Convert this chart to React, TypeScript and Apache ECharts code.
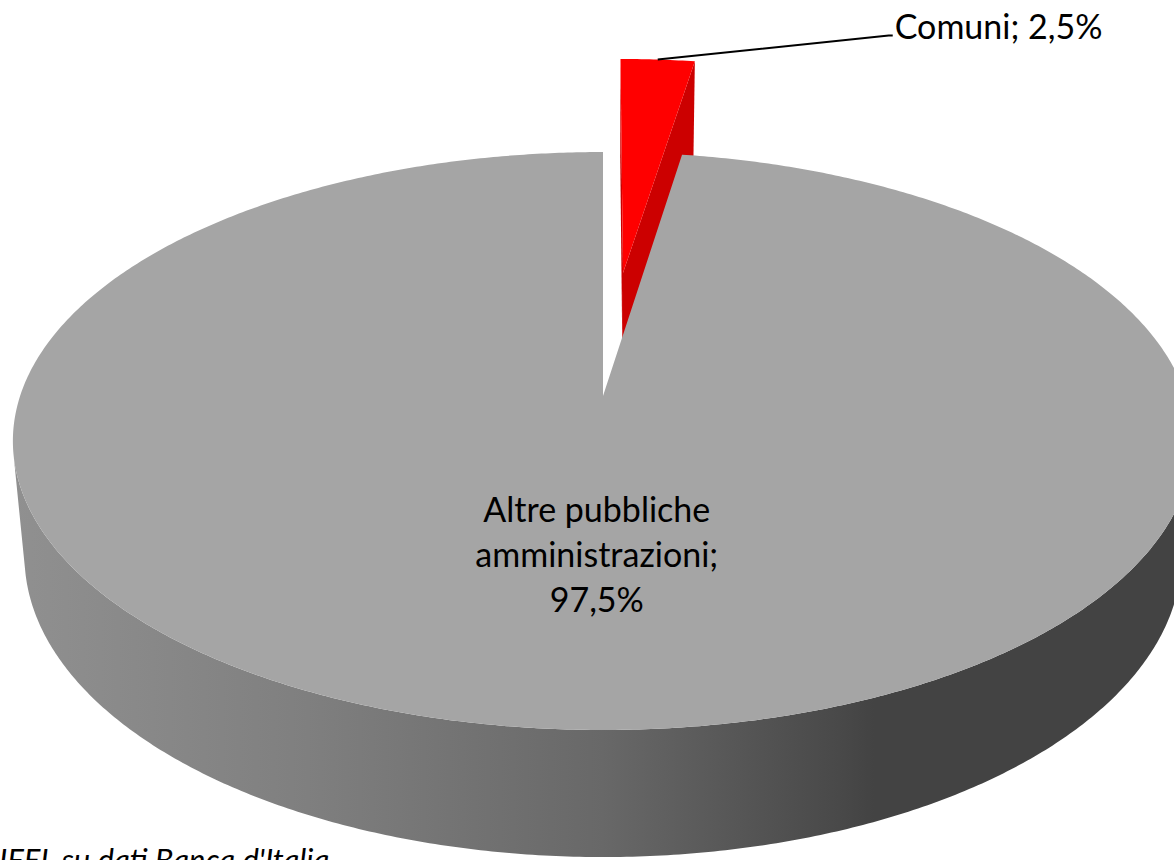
import { useEffect, useRef } from "react";
import * as echarts from "echarts";

// ---- data ----
const categories = ["Comuni", "Altre pubbliche amministrazioni"];
const shares = [2.5, 97.5];
const sourceNote = "IFEL su dati Banca d'Italia";

// ---- styles ----
const topColors = ["#ff0000", "#a5a5a5"];
const sideColors = ["#cc0000", "#7a7a7a"];
const wallStops = [
  [
    { offset: 0, color: "#d40000" },
    { offset: 1, color: "#a00000" },
  ],
  [
    { offset: 0, color: "#909090" },
    { offset: 0.25, color: "#7f7f7f" },
    { offset: 0.5, color: "#686868" },
    { offset: 0.7, color: "#494949" },
    { offset: 0.73, color: "#434343" },
    { offset: 1, color: "#434343" },
  ],
];
const explodeBy = [0.47, 0];
const FONT = "Lato, 'Open Sans', sans-serif";

// ---- 3D perspective projection of the pie ----
const F = 3276;
const D = 5.62;
const SIN = 0.4837;
const COS = Math.sqrt(1 - SIN * SIN);
const OX = 603;
const OY = 396;
const H = 0.228;
const CAM = [0, D * SIN, D * COS];

function proj(X: number, Y: number, Z: number): number[] {
  const dist = D - (Z * COS + Y * SIN);
  return [OX + (F * X) / dist, OY - (F * (Y * COS - Z * SIN)) / dist];
}
function facing(p: number[], n: number[]): boolean {
  return (
    (CAM[0] - p[0]) * n[0] + (CAM[1] - p[1]) * n[1] + (CAM[2] - p[2]) * n[2] >
    1e-6
  );
}
function fmt(v: number): string {
  return v.toFixed(1).replace(".", ",") + "%";
}

export default function App() {
  const ref = useRef<HTMLDivElement>(null);
  useEffect(() => {
    if (!ref.current) return;
    const chart = echarts.init(ref.current, null, { renderer: "svg" });
    const total = shares.reduce((a, b) => a + b, 0);

    const renderItem = (params: any, api: any) => {
      const i = params.dataIndex;
      const value = api.value(0);
      let before = 0;
      for (let k = 0; k < i; k++) before += shares[k];
      const a0 = (before / total) * Math.PI * 2;
      const a1 = ((before + value) / total) * Math.PI * 2;
      const mid = (a0 + a1) / 2;
      const e = explodeBy[i];
      const cx = e * Math.sin(mid);
      const cz = -e * Math.cos(mid);
      const arc = (th: number, y: number) =>
        proj(cx + Math.sin(th), y, cz - Math.cos(th));
      const steps = Math.max(8, Math.ceil(((a1 - a0) / (Math.PI * 2)) * 720));
      const angles: number[] = [];
      for (let s = 0; s <= steps; s++) angles.push(a0 + ((a1 - a0) * s) / steps);

      const children: any[] = [];
      const apexTop = proj(cx, 0, cz);
      const apexBot = proj(cx, -H, cz);
      // radial faces
      if (facing([cx, 0, cz], [-Math.cos(a0), 0, -Math.sin(a0)])) {
        children.push({
          type: "polygon",
          shape: { points: [apexTop, arc(a0, 0), arc(a0, -H), apexBot] },
          style: { fill: sideColors[i] },
        });
      }
      if (facing([cx, 0, cz], [Math.cos(a1), 0, Math.sin(a1)])) {
        children.push({
          type: "polygon",
          shape: { points: [apexTop, arc(a1, 0), arc(a1, -H), apexBot] },
          style: { fill: sideColors[i] },
        });
      }
      // outer wall
      const vis = angles.filter((th) =>
        facing(
          [cx + Math.sin(th), 0, cz - Math.cos(th)],
          [Math.sin(th), 0, -Math.cos(th)]
        )
      );
      if (vis.length > 1) {
        const pts = [
          ...vis.map((th) => arc(th, 0)),
          ...vis.slice().reverse().map((th) => arc(th, -H)),
        ];
        children.push({
          type: "polygon",
          shape: { points: pts },
          style: {
            fill: {
              type: "linear",
              x: 0,
              y: 0,
              x2: 1,
              y2: 0,
              colorStops: wallStops[i],
            },
          },
        });
      }
      // top face
      children.push({
        type: "polygon",
        shape: { points: [apexTop, ...angles.map((th) => arc(th, 0))] },
        style: { fill: topColors[i] },
      });

      // labels
      if (i === 0) {
        const p = arc(mid, 0);
        const q = [p[0] + 231, p[1] - 24];
        children.push({
          type: "polyline",
          shape: { points: [p, q, [q[0] + 4, q[1]]] },
          style: { stroke: "#000", lineWidth: 2, fill: "none" },
        });
        children.push({
          type: "text",
          style: {
            text: `${categories[i]}; ${fmt(value)}`,
            x: q[0] + 6,
            y: q[1] - 10,
            align: "left",
            verticalAlign: "middle",
            font: `34px ${FONT}`,
            fill: "#000",
          },
        });
      } else {
        const r = 0.52;
        const c = proj(cx + r * Math.sin(mid) + 0.031, 0, cz - r * Math.cos(mid));
        children.push({
          type: "text",
          style: {
            text: `${categories[i].replace(" amministrazioni", "\namministrazioni")};\n${fmt(value)}`,
            x: c[0],
            y: c[1] - 2,
            align: "center",
            verticalAlign: "middle",
            font: `34px ${FONT}`,
            lineHeight: 45,
            fill: "#000",
          },
        });
      }
      return { type: "group", children };
    };

    chart.setOption({
      animation: false,
      backgroundColor: "#ffffff",
      series: [
        {
          type: "custom",
          coordinateSystem: "none",
          renderItem,
          data: shares.map((v, k) => ({ name: categories[k], value: [v] })),
          silent: true,
        },
      ],
      graphic: [
        {
          type: "text",
          left: -1,
          top: 843,
          style: {
            text: sourceNote,
            font: `italic 31px ${FONT}`,
            fill: "#000",
          },
        },
      ],
    });
    return () => chart.dispose();
  }, []);
  return (
    <div
      ref={ref}
      style={{ position: "fixed", left: 0, top: 0, width: 1174, height: 860 }}
    />
  );
}
